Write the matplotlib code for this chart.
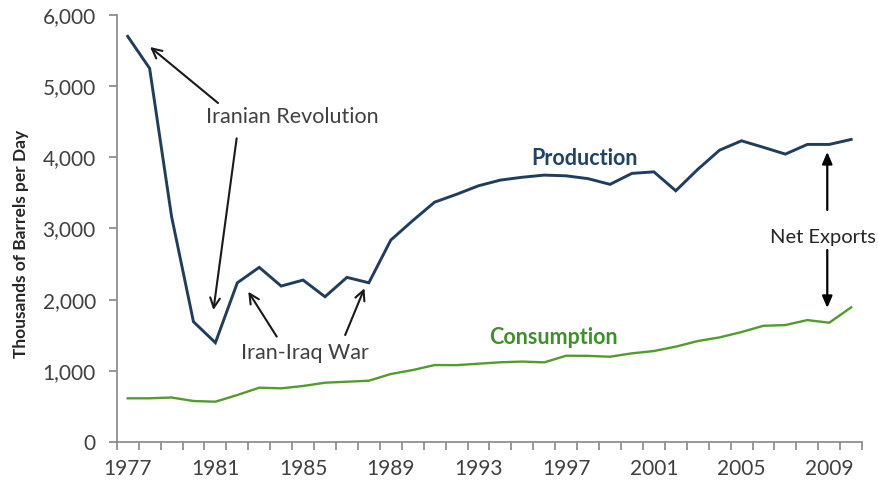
import matplotlib
matplotlib.use("Agg")
import matplotlib.pyplot as plt
import numpy as np

plt.rcParams['font.family'] = ['Lato', 'DejaVu Sans']

years = list(range(1977, 2011))
production = [5700, 5250, 3170, 1690, 1395, 2237, 2454, 2191, 2275, 2041,
              2313, 2237, 2837, 3110, 3370, 3480, 3600, 3680, 3720, 3750,
              3740, 3700, 3620, 3774, 3796, 3530, 3830, 4101, 4232, 4140,
              4045, 4181, 4181, 4251]
consumption = [614, 614, 625, 576, 566, 660, 763, 754, 787, 833,
               847, 861, 955, 1011, 1081, 1080, 1100, 1120, 1130, 1119,
               1212, 1210, 1198, 1246, 1278, 1340, 1418, 1470, 1545, 1633,
               1643, 1713, 1676, 1892]
ytick_vals = [0, 1000, 2000, 3000, 4000, 5000, 6000]
xtick_labels = [1977, 1981, 1985, 1989, 1993, 1997, 2001, 2005, 2009]

fig = plt.figure(figsize=(8.79, 4.83), dpi=100)
ax = fig.add_axes([0.1328, 0.0849, 0.848, 0.8841])

prod_color = '#1f3d5c'
cons_color = '#529c2c'
axis_color = '#868686'

ax.plot(years, production, color=prod_color, lw=2.1, solid_joinstyle='miter')
ax.plot(years, consumption, color=cons_color, lw=1.7)

ax.set_xlim(years[0] - 0.5, years[-1] + 0.5)
ax.set_ylim(0, 6000)

for s in ['top', 'right']:
    ax.spines[s].set_visible(False)
for s in ['left', 'bottom']:
    ax.spines[s].set_color(axis_color)
    ax.spines[s].set_linewidth(1.2)

ax.set_yticks(ytick_vals)
ax.set_yticklabels([f"{v:,}" for v in ytick_vals])
ax.tick_params(axis='y', length=6, width=1.2, color=axis_color,
               labelsize=15, labelcolor='#404040', pad=9)

# category boundary ticks
ax.set_xticks([y - 0.5 for y in years] + [years[-1] + 0.5])
ax.set_xticklabels([])
ax.tick_params(axis='x', which='major', length=6, width=1.2, color=axis_color)
ax.set_xticks(xtick_labels, minor=True)
ax.set_xticklabels([str(v) for v in xtick_labels], minor=True)
ax.tick_params(axis='x', which='minor', length=0, labelsize=15,
               labelcolor='#404040', pad=12)

ax.set_ylabel('Thousands of Barrels per Day', fontsize=12.5, fontweight='bold',
              color='#262626')
ax.yaxis.set_label_coords(-0.118, 0.464)

open_arrow = dict(arrowstyle='->,head_length=0.7,head_width=0.35', color='#1a1a1a',
                  lw=1.5, shrinkA=0, shrinkB=0)
filled_arrow = dict(arrowstyle='-|>,head_length=0.7,head_width=0.3', color='#000000',
                    lw=1.6, shrinkA=0, shrinkB=0)

ax.annotate('', xy=(1978.02, 5550), xytext=(1981.12, 4763), arrowprops=open_arrow)
ax.annotate('', xy=(1980.91, 1855), xytext=(1981.97, 4267), arrowprops=open_arrow)
ax.annotate('', xy=(1982.5, 2112), xytext=(1983.80, 1480), arrowprops=open_arrow)
ax.annotate('', xy=(1987.8, 2160), xytext=(1986.92, 1503), arrowprops=open_arrow)
ax.annotate('', xy=(2008.91, 4075), xytext=(2008.91, 3260), arrowprops=filled_arrow)
ax.annotate('', xy=(2008.91, 1883), xytext=(2008.91, 2698), arrowprops=filled_arrow)

ax.text(1984.5, 4567, 'Iranian Revolution', ha='center', va='center',
        fontsize=15.5, color='#404040')
ax.text(1985.09, 1250, 'Iran-Iraq War', ha='center', va='center',
        fontsize=15.5, color='#404040')
ax.text(2008.7, 2880, 'Net Exports', ha='center', va='center',
        fontsize=14.5, color='#262626')
ax.text(1997.83, 3990, 'Production', ha='center', va='center',
        fontsize=15.5, fontweight='bold', color='#1f4466')
ax.text(1996.4, 1475, 'Consumption', ha='center', va='center',
        fontsize=15.5, fontweight='bold', color='#3f8f2a')

fig.savefig('out.png', dpi=100)
